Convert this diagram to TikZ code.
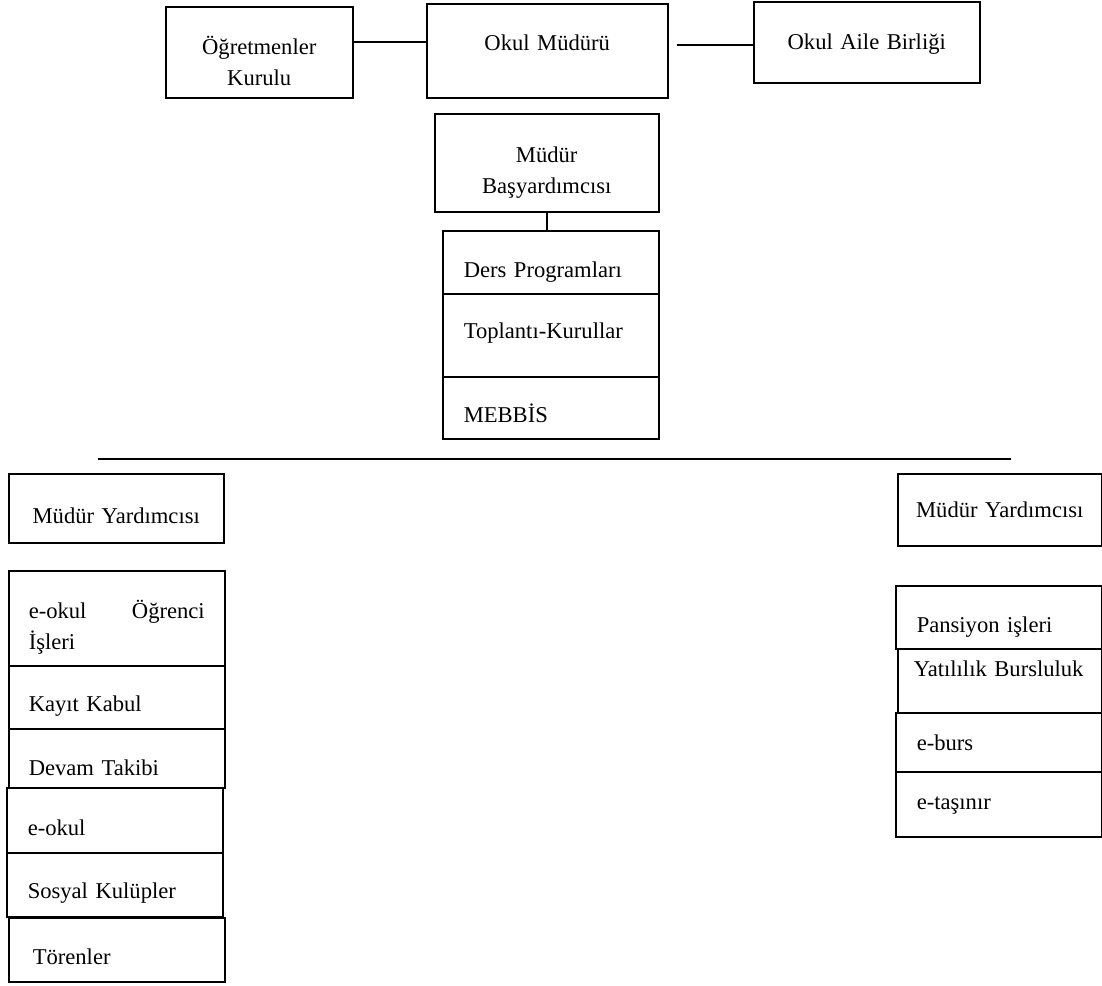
\documentclass[tikz,border=0pt]{standalone}
\usepackage{fontspec}
\setmainfont{Liberation Serif}
\begin{document}
\begin{tikzpicture}[x=1pt,y=-1pt,
  box/.style={draw,line width=1.5pt,anchor=north west,inner ysep=0pt,font=\fontsize{22.6}{31}\selectfont},
  cell/.style n args={4}{text width=#1,inner xsep=#2,text height=#3,text depth=#4},
  mid/.style={box,align=center},
  flush/.style={box,align=left},
  link/.style={line width=1.5pt}]
\useasboundingbox (0,0) rectangle (1102,985);
\node[mid,cell={167pt}{10pt}{48pt}{43pt}] (ogr) at (165,6) {Öğretmenler\\Kurulu};
\node[mid,cell={221pt}{10pt}{47pt}{47pt}] (mud) at (426,3) {Okul Müdürü};
\node[mid,cell={206pt}{10pt}{48pt}{33pt}] (aile) at (753,1) {Okul Aile Birliği};
\node[mid,cell={204pt}{10pt}{49pt}{49pt}] (bas) at (434,113) {Müdür\\Başyardımcısı};
\node[flush,cell={174pt}{21pt}{47pt}{16pt}] (ders) at (442,230) {Ders Programları};
\node[flush,cell={174pt}{21pt}{45pt}{38pt}] (topl) at (442,293) {Toplantı-Kurullar};
\node[flush,cell={174pt}{21pt}{46pt}{16pt}] (mebbis) at (442,376) {MEBBİS};
\coordinate (barL) at (98,459);
\coordinate (barR) at (1011,459);
\node[mid,cell={195pt}{10pt}{50pt}{19pt}] (yrd1) at (8,473) {Müdür Yardımcısı};
\node[flush,cell={176pt}{20pt}{48pt}{47pt}] (ogrenci) at (8,570) {e-okul\hfill Öğrenci\\İşleri};
\node[flush,cell={176pt}{20pt}{46pt}{17pt}] (kayit) at (8,665) {Kayıt Kabul};
\node[flush,cell={176pt}{20pt}{47pt}{12pt}] (devam) at (8,728) {Devam Takibi};
\node[flush,cell={174pt}{21pt}{48pt}{17pt}] (eokul) at (6,787) {e-okul};
\node[flush,cell={174pt}{21pt}{46pt}{18pt}] (sosyal) at (6,852) {Sosyal Kulüpler};
\node[flush,cell={168pt}{24pt}{47pt}{17pt}] (toren) at (8,917) {Törenler};
\node[mid,cell={184pt}{10pt}{44pt}{28pt}] (yrd2) at (897,473) {Müdür Yardımcısı};
\node[flush,cell={164pt}{21pt}{47pt}{16pt}] (pansiyon) at (895,585) {Pansiyon işleri};
\node[flush,cell={172pt}{16pt}{28pt}{36pt}] (yatili) at (897,648) {Yatılılık Bursluluk};
\node[flush,cell={164pt}{21pt}{38pt}{21pt}] (eburs) at (895,712) {e-burs};
\node[flush,cell={164pt}{21pt}{38pt}{27pt}] (etasinir) at (895,771) {e-taşınır};
\draw[link] (ogr.east |- 0,42) -- (mud.west |- 0,42);
\draw[link,shorten <=8pt] (mud.east |- 0,45) -- (aile.west |- 0,45);
\draw[link] (bas.south) -- (bas.south |- ders.north);
\draw[link] (barL) -- (barR);
\end{tikzpicture}
\end{document}
